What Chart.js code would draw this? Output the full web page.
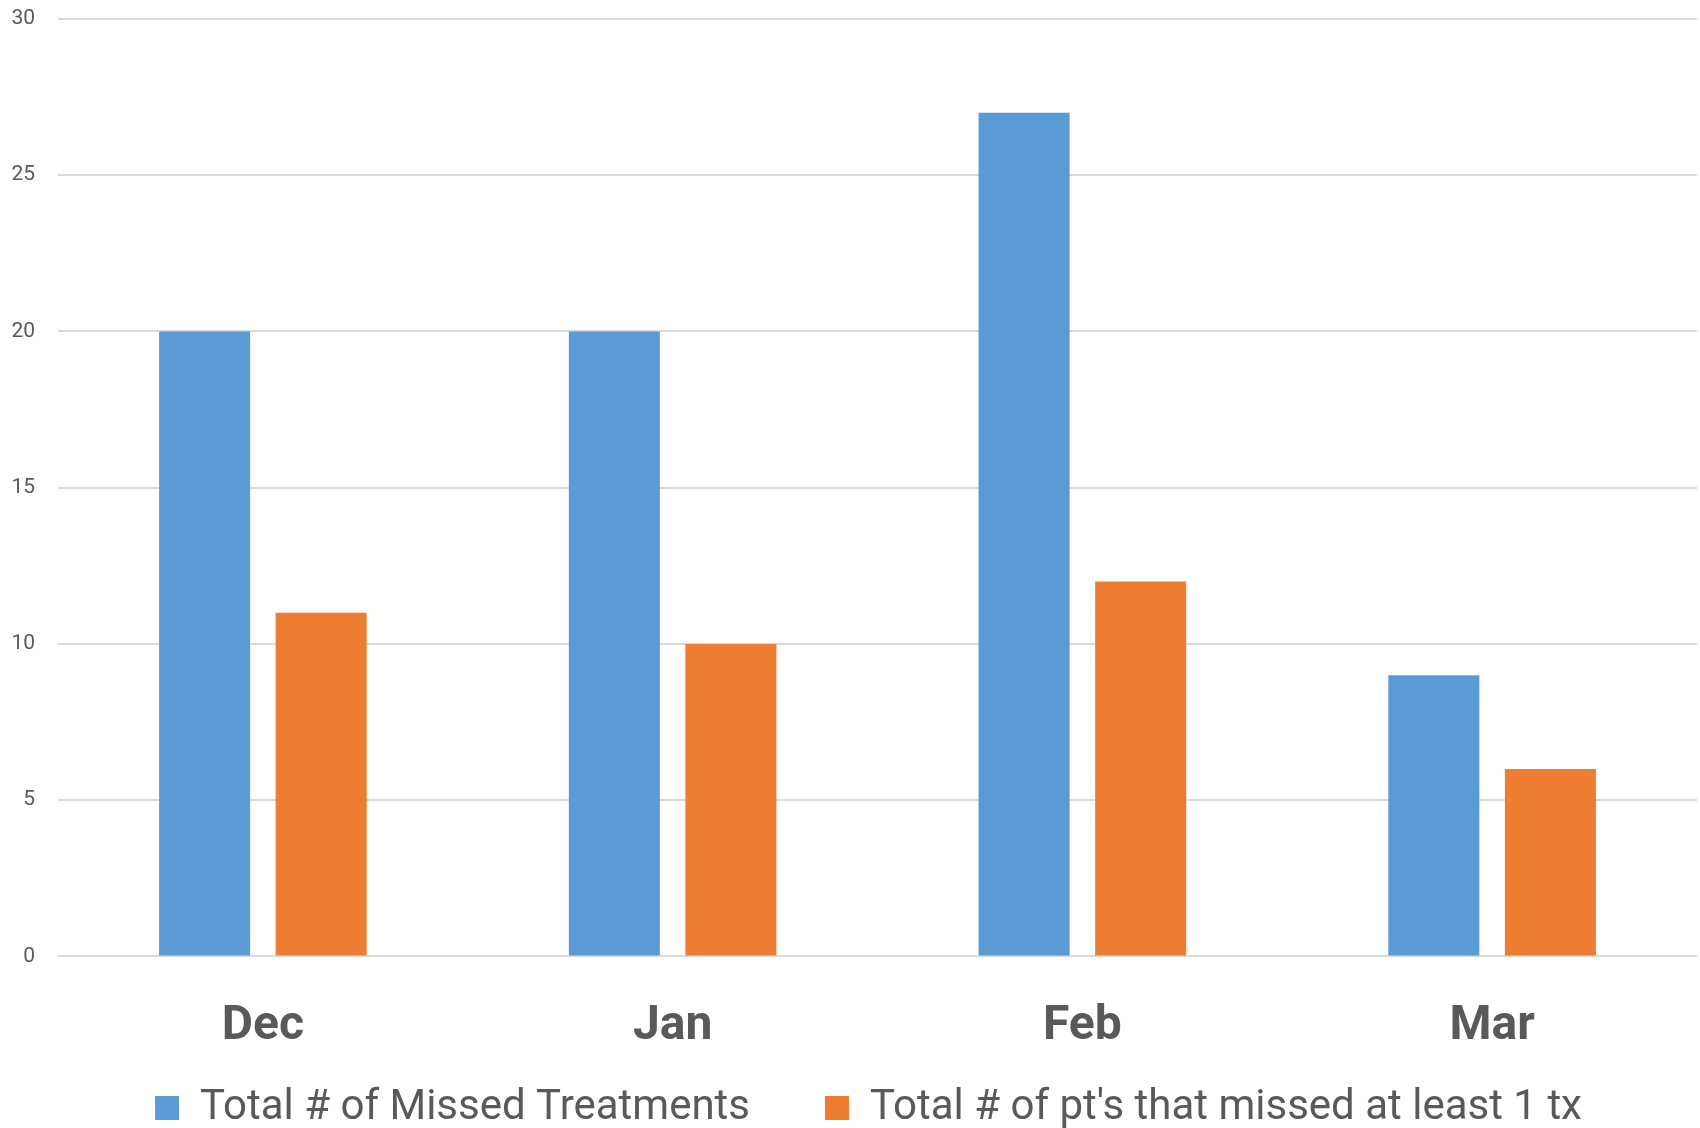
<!DOCTYPE html>
<html>
<head>
<meta charset="utf-8">
<script src="https://cdn.jsdelivr.net/npm/chart.js@4.4.0/dist/chart.umd.min.js"></script>
<style>
  html, body { margin: 0; padding: 0; background: #fff; }
  #wrap { width: 1700px; height: 1128px; position: relative; }
</style>
</head>
<body>
<div id="wrap"><canvas id="myChart"></canvas></div>
<script>
const months = ['Dec', 'Jan', 'Feb', 'Mar'];
const missedTreatments = [20, 20, 27, 9];
const ptsMissed = [11, 10, 12, 6];
const yTicks = [0, 5, 10, 15, 20, 25, 30];

const textColor = '#595959';
const gridColor = '#d9d9d9';

(function(){
    var ctx = document.getElementById('myChart').getContext('2d');
    var chart = new Chart(ctx, {
        type: 'bar',
        data: {
            labels: months,
            datasets: [{
                label: 'Total # of Missed Treatments',
                backgroundColor: '#5B9BD5',
                data: missedTreatments,
                categoryPercentage: 0.569,
                barPercentage: 0.781
            },
            {
                label: "Total # of pt's that missed at least 1 tx",
                backgroundColor: '#ED7D31',
                data: ptsMissed,
                categoryPercentage: 0.569,
                barPercentage: 0.781
            }]
        },
        options: {
            responsive: true,
            maintainAspectRatio: false,
            devicePixelRatio: 1,
            animation: false,
            // right padding negative so the legend row sits a bit right of centre,
            // the empty right axis below brings the plot edge back to the canvas edge
            layout: { padding: { top: 19, right: -37, left: 0, bottom: -11 } },
            plugins: {
                tooltip: { enabled: false },
                legend: {
                    position: 'bottom',
                    labels: {
                        color: textColor,
                        boxWidth: 24,
                        boxHeight: 24,
                        padding: 2,
                        font: { family: 'Roboto', size: 42 },
                        // a bit more room between the two items
                        generateLabels: function(c) {
                            var items = Chart.defaults.plugins.legend.labels.generateLabels(c);
                            items[0].text = items[0].text + '       ';
                            return items;
                        }
                    }
                }
            },
            scales: {
                x: {
                    grid: { display: false },
                    border: { display: false },
                    afterFit: function(scale) { scale.height = scale.height - 5; },
                    ticks: {
                        color: textColor,
                        padding: 34,
                        font: { family: 'Roboto', size: 48, weight: 'bold' }
                    }
                },
                y: {
                    min: 0,
                    max: 30,
                    afterBuildTicks: function(scale) {
                        scale.ticks = yTicks.map(v => ({ value: v }));
                    },
                    afterFit: function(scale) {
                        scale.width = 58;
                        scale.paddingTop = 0;
                        scale.paddingBottom = 0;
                    },
                    grid: { color: gridColor, lineWidth: 2, drawTicks: false },
                    border: { display: false },
                    ticks: {
                        color: textColor,
                        padding: 23,
                        font: { family: 'Roboto', size: 21 }
                    }
                },
                yRight: {
                    position: 'right',
                    grid: { display: false },
                    border: { display: false },
                    ticks: { display: false },
                    afterFit: function(scale) {
                        scale.width = 40;
                        scale.paddingTop = 0;
                        scale.paddingBottom = 0;
                    }
                }
            }
        }
    });
})()
</script>
</body>
</html>
